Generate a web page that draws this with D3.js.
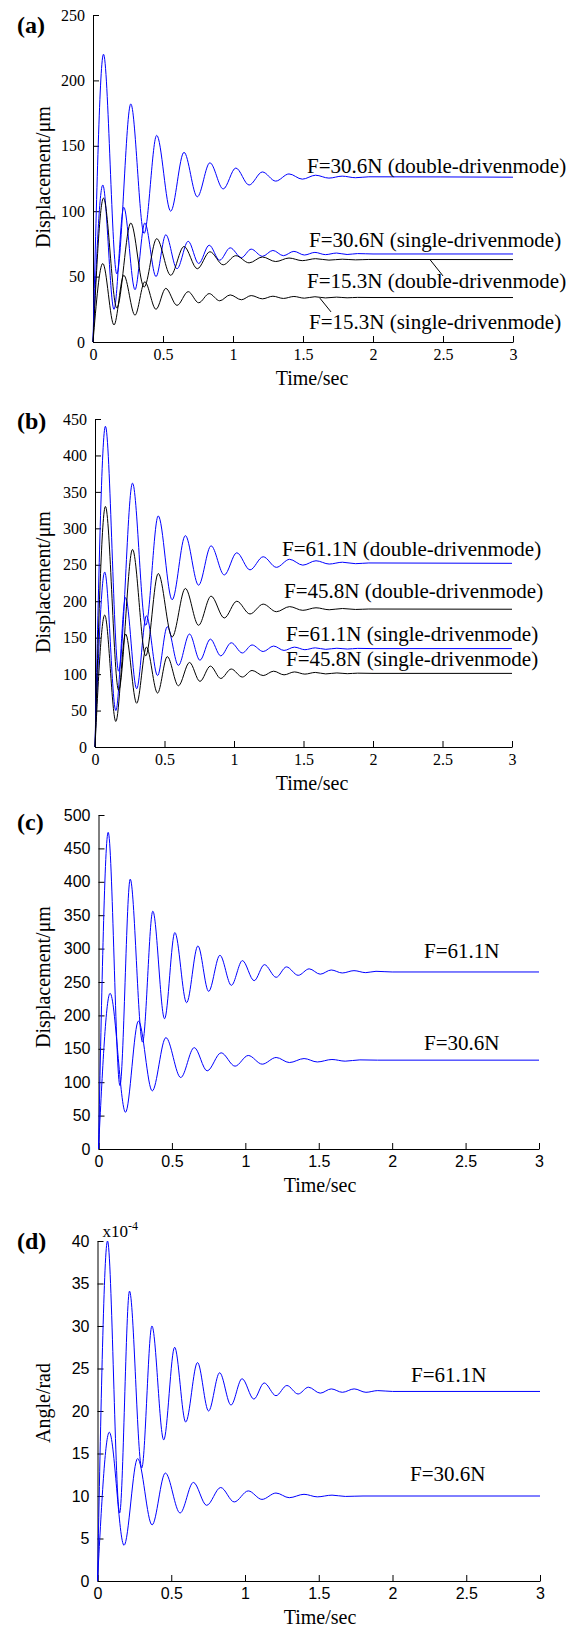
<!DOCTYPE html>
<html>
<head>
<meta charset="utf-8">
<script src="https://cdn.jsdelivr.net/npm/d3@7/dist/d3.min.js"></script>
<style>
  body { margin: 0; background: #fff; }
</style>
</head>
<body>
<svg id="chart" width="578" height="1631"></svg>
<script>
// ---- data (peaks / troughs) ----
const timeTicks = [0, 0.5, 1, 1.5, 2, 2.5, 3];
const dispTicksA = [0, 50, 100, 150, 200, 250];
const dispTicksB = [0, 50, 100, 150, 200, 250, 300, 350, 400, 450];
const dispTicksC = [0, 50, 100, 150, 200, 250, 300, 350, 400, 450, 500];
const angleTicks = [0, 5, 10, 15, 20, 25, 30, 35, 40];

// time of extrema, double-driven mode and single-driven mode (panels a, b)
const tDouble = [0, 0.075, 0.17, 0.27, 0.365, 0.455, 0.555, 0.65, 0.745, 0.835, 0.93, 1.02,
  1.115, 1.21, 1.305, 1.40, 1.495, 1.59, 1.685, 1.78, 1.875, 1.97, 3];
const tSingle = [0, 0.07, 0.15, 0.22, 0.30, 0.37, 0.45, 0.52, 0.60, 0.68, 0.755, 0.83, 0.905,
  0.98, 1.06, 1.13, 1.21, 1.285, 1.36, 1.435, 1.51, 1.585, 1.66, 1.74, 1.815, 1.89, 2.0, 3];

// (a)
const aDouble306 = [0, 220, 52, 182, 83, 158, 100, 145, 111, 137, 117, 133, 120, 130, 123, 128.5,
  124.5, 127.5, 125.3, 126.8, 125.6, 126.3, 126];
const aDouble153 = [0, 110, 26, 91, 42, 79, 51, 73, 56, 69, 59, 66, 60.5, 65, 61.5, 64.2, 62.2,
  63.7, 62.6, 63.3, 62.8, 63.1, 63];
const aSingle306 = [0, 120, 25, 103, 40, 91, 50, 82, 56, 77, 60, 74, 62.5, 72, 64.5, 71, 65.5, 70,
  66, 69.3, 66.5, 68.5, 66.8, 68, 66.9, 67.6, 67.3, 67.3];
const aSingle153 = [0, 60, 13, 51, 20.5, 46, 25, 41, 28, 38.5, 30, 37, 31.5, 36, 32.3, 35.5, 33,
  35, 33.3, 34.8, 33.5, 34.6, 33.7, 34.3, 33.8, 34.1, 34, 34];

// (b)
const bDouble611 = [0, 440, 104, 362, 167, 317, 202, 290, 222, 276, 236, 266.5, 243, 261, 246.5,
  257.5, 249.5, 255.5, 251, 253.5, 251.5, 252.5, 252];
const bDouble458 = [0, 330, 78, 271, 125, 238, 151, 217.5, 167, 207, 177, 200, 182.5, 196, 185.6,
  192.6, 187.5, 191, 188.3, 190, 188.7, 189.3, 189];
const bSingle611 = [0, 240, 50, 205, 80, 180, 98, 165, 112, 155, 119, 148, 125, 143, 129, 140, 131,
  138.5, 132.5, 137, 133.5, 136, 134, 135.5, 134.4, 135.3, 135, 135];
const bSingle458 = [0, 181, 35, 155, 60, 137, 74, 124, 84, 116, 90, 111, 94, 107, 96, 105, 98, 104,
  99, 103, 100, 102.3, 100.3, 101.6, 100.6, 101.3, 101, 101];

// (c)
const tC611 = [0, 0.066, 0.146, 0.216, 0.30, 0.37, 0.45, 0.52, 0.60, 0.677, 0.75, 0.827, 0.905,
  0.98, 1.06, 1.13, 1.21, 1.28, 1.36, 1.435, 1.51, 1.585, 1.66, 1.74, 1.82, 1.89, 2.0, 3];
const cDisp611 = [0, 474, 95, 404, 160, 356, 195, 324, 219, 304, 236, 290, 245, 282, 252, 276, 257,
  272.6, 260, 269.7, 261.7, 268, 263.5, 267, 264, 266, 265, 265];
const tC306 = [0, 0.079, 0.184, 0.272, 0.366, 0.459, 0.56, 0.652, 0.74, 0.835, 0.93, 1.02, 1.115,
  1.21, 1.30, 1.40, 1.49, 1.59, 1.68, 1.78, 1.9, 3];
const cDisp306 = [0, 233, 55, 191.5, 87, 166.7, 107, 151.8, 117, 144, 124, 140, 127, 137, 129.4,
  135.4, 130.3, 134, 131.5, 133.4, 133, 133];

// (d)  angle in units of 1e-4 rad
const tD611 = [0, 0.068, 0.15, 0.217, 0.30, 0.369, 0.449, 0.523, 0.598, 0.678, 0.753, 0.828, 0.905,
  0.98, 1.06, 1.13, 1.21, 1.284, 1.36, 1.43, 1.51, 1.585, 1.66, 1.74, 1.82, 1.9, 2.0, 3];
const dAngle611 = [0, 40, 8, 34.1, 13.3, 30, 16.6, 27.5, 18.7, 25.7, 20, 24.5, 20.7, 23.8, 21.4,
  23.3, 21.8, 23.0, 22.0, 22.8, 22.1, 22.6, 22.2, 22.6, 22.2, 22.4, 22.3, 22.3];
const tD306 = [0, 0.08, 0.18, 0.272, 0.37, 0.46, 0.56, 0.65, 0.74, 0.835, 0.927, 1.022, 1.115,
  1.21, 1.30, 1.40, 1.49, 1.59, 1.68, 1.8, 3];
const dAngle306 = [0, 17.5, 4.2, 14.4, 6.6, 12.7, 8.0, 11.6, 8.9, 11.0, 9.3, 10.6, 9.6, 10.35,
  9.8, 10.2, 9.9, 10.1, 9.95, 10, 10];

const BLUE = "#0000ff";
const BLACK = "#000000";
const SERIF = "'Liberation Serif', 'Times New Roman', serif";
const SANS = "'Liberation Sans', Arial, sans-serif";

const svg = d3.select("#chart");

const panels = [
  {
    tag: "(a)", tagY: 33, left: 93, right: 513, top: 15, bottom: 342,
    yMax: 250, yTicks: dispTicksA, tickFont: SERIF, yLabel: "Displacement/\u03bcm", yLabelY: 177,
    xLabelX: 312,
    series: [
      { t: tDouble, v: aDouble306, color: BLUE },
      { t: tSingle, v: aSingle306, color: BLUE },
      { t: tDouble, v: aDouble153, color: BLACK },
      { t: tSingle, v: aSingle153, color: BLACK }
    ],
    notes: [
      { text: "F=30.6N (double-drivenmode)", x: 307, y: 173 },
      { text: "F=30.6N (single-drivenmode)", x: 309, y: 247 },
      { text: "F=15.3N (double-drivenmode)", x: 307, y: 288 },
      { text: "F=15.3N (single-drivenmode)", x: 309, y: 329 }
    ],
    leaders: [[[2.407, 63], [2.5, 50.5]], [[1.62, 33.6], [1.7, 23]]]
  },
  {
    tag: "(b)", tagY: 429, left: 95, right: 512, top: 419, bottom: 747,
    yMax: 450, yTicks: dispTicksB, tickFont: SERIF, yLabel: "Displacement/\u03bcm", yLabelY: 582,
    xLabelX: 312,
    series: [
      { t: tDouble, v: bDouble611, color: BLUE },
      { t: tSingle, v: bSingle611, color: BLUE },
      { t: tDouble, v: bDouble458, color: BLACK },
      { t: tSingle, v: bSingle458, color: BLACK }
    ],
    notes: [
      { text: "F=61.1N (double-drivenmode)", x: 282, y: 556 },
      { text: "F=45.8N (double-drivenmode)", x: 284, y: 598 },
      { text: "F=61.1N (single-drivenmode)", x: 286, y: 641 },
      { text: "F=45.8N (single-drivenmode)", x: 286, y: 666 }
    ],
    leaders: []
  },
  {
    tag: "(c)", tagY: 830, left: 98.5, right: 539, top: 815, bottom: 1149,
    yMax: 500, yTicks: dispTicksC, tickFont: SANS, yLabel: "Displacement/\u03bcm", yLabelY: 977,
    xLabelX: 320,
    series: [
      { t: tC611, v: cDisp611, color: BLUE },
      { t: tC306, v: cDisp306, color: BLUE }
    ],
    notes: [
      { text: "F=61.1N", x: 424, y: 958 },
      { text: "F=30.6N", x: 424, y: 1050 }
    ],
    leaders: []
  },
  {
    tag: "(d)", tagY: 1249, left: 97.5, right: 540, top: 1241, bottom: 1581,
    yMax: 40, yTicks: angleTicks, tickFont: SANS, yLabel: "Angle/rad", yLabelY: 1403,
    xLabelX: 320, exponent: true,
    series: [
      { t: tD611, v: dAngle611, color: BLUE },
      { t: tD306, v: dAngle306, color: BLUE }
    ],
    notes: [
      { text: "F=61.1N", x: 411, y: 1382 },
      { text: "F=30.6N", x: 410, y: 1481 }
    ],
    leaders: []
  }
];

function drawPanel(p) {
  const x = d3.scaleLinear().domain([0, 3]).range([p.left, p.right]);
  const y = d3.scaleLinear().domain([0, p.yMax]).range([p.bottom, p.top]);
  const g = svg.append("g");

  // axes (MATLAB style: ticks pointing inward, no box)
  const xAxis = g.append("g")
    .attr("transform", `translate(0,${p.bottom})`)
    .call(d3.axisBottom(x).tickValues(timeTicks).tickFormat(d3.format("~g"))
      .tickSizeInner(-6).tickSizeOuter(0).tickPadding(7));
  const yAxis = g.append("g")
    .attr("transform", `translate(${p.left},0)`)
    .call(d3.axisLeft(y).tickValues(p.yTicks).tickFormat(d3.format("~g"))
      .tickSizeInner(-6).tickSizeOuter(0).tickPadding(8));
  [xAxis, yAxis].forEach(a => {
    a.attr("font-family", p.tickFont).attr("font-size", 16);
    a.selectAll("text").attr("fill", "#000");
    a.selectAll("line, path").attr("stroke", "#000");
  });

  // curves
  const line = d3.line().x(d => x(d[0])).y(d => y(d[1])).curve(d3.curveMonotoneX);
  p.series.forEach(s => {
    g.append("path")
      .datum(d3.zip(s.t, s.v))
      .attr("d", line)
      .attr("fill", "none")
      .attr("stroke", s.color)
      .attr("stroke-width", 1);
  });

  // leader lines
  p.leaders.forEach(l => {
    g.append("line")
      .attr("x1", x(l[0][0])).attr("y1", y(l[0][1]))
      .attr("x2", x(l[1][0])).attr("y2", y(l[1][1]))
      .attr("stroke", "#000").attr("stroke-width", 1);
  });

  // text
  g.append("text").attr("x", 17).attr("y", p.tagY)
    .attr("font-family", SERIF).attr("font-weight", "bold").attr("font-size", 24)
    .text(p.tag);
  g.append("text").attr("x", p.xLabelX).attr("y", p.bottom + 43)
    .attr("text-anchor", "middle").attr("font-family", SERIF).attr("font-size", 20)
    .text("Time/sec");
  g.append("text").attr("transform", `translate(50,${p.yLabelY}) rotate(-90)`)
    .attr("text-anchor", "middle").attr("font-family", SERIF).attr("font-size", 20)
    .text(p.yLabel);
  p.notes.forEach(n => {
    g.append("text").attr("x", n.x).attr("y", n.y)
      .attr("font-family", SERIF).attr("font-size", 21)
      .text(n.text);
  });
  if (p.exponent) {
    const e = g.append("text").attr("x", p.left + 5).attr("y", p.top - 4)
      .attr("font-family", SERIF).attr("font-size", 17);
    e.append("tspan").text("x10");
    e.append("tspan").attr("font-size", 12).attr("dy", -7).text("-4");
  }
}

panels.forEach(drawPanel);
</script>
</body>
</html>
